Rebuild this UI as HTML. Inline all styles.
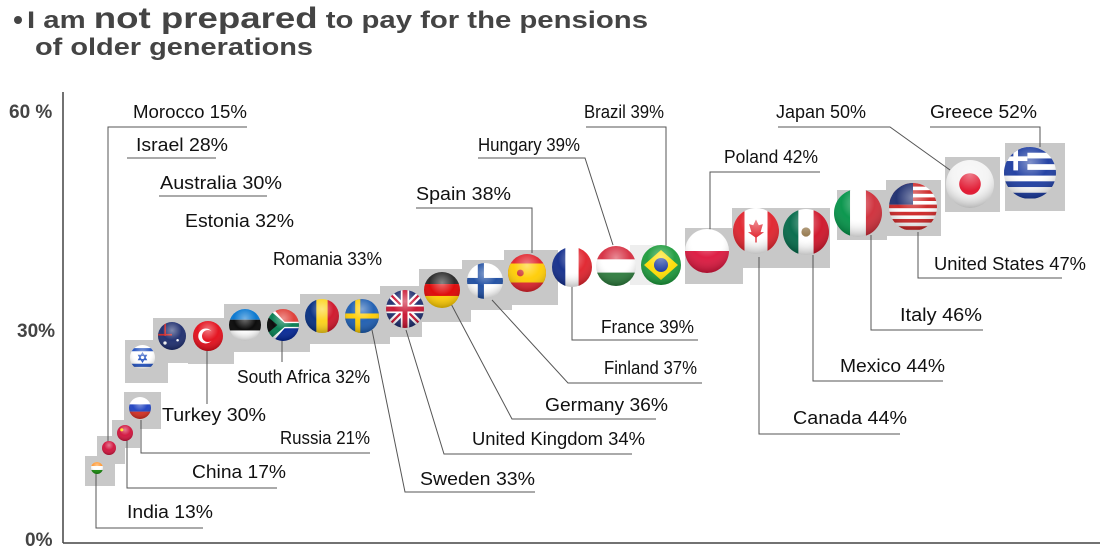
<!DOCTYPE html>
<html><head><meta charset="utf-8"><style>
html,body{margin:0;padding:0;background:#fff;}
svg{display:block}
text{font-family:"Liberation Sans",sans-serif;}
.l{font-size:18px;fill:#111;}
.ln{stroke:#555;stroke-width:1;fill:none;}
.bx{fill:#c8c8c8;}
</style></head><body>
<svg width="1107" height="553" viewBox="0 0 1107 553" xmlns="http://www.w3.org/2000/svg">
<defs>
<clipPath id="c" clipPathUnits="userSpaceOnUse"><circle cx="0" cy="0" r="1"/></clipPath>
<radialGradient id="sh" cx="0.5" cy="0.3" r="0.7">
<stop offset="0" stop-color="#fff" stop-opacity="0.45"/><stop offset="0.5" stop-color="#fff" stop-opacity="0.05"/><stop offset="1" stop-color="#000" stop-opacity="0.25"/></radialGradient>
</defs>
<!-- title -->
<circle cx="18" cy="20" r="4" fill="#444"/>
<text x="27" y="28" fill="#444" font-weight="bold" font-size="24" textLength="621" lengthAdjust="spacingAndGlyphs">I am <tspan font-size="30">not prepared</tspan> to pay for the pensions</text>
<text x="35" y="55" fill="#444" font-weight="bold" font-size="24" textLength="278" lengthAdjust="spacingAndGlyphs">of older generations</text>
<!-- axes -->
<line x1="63" y1="92" x2="63" y2="543" stroke="#444" stroke-width="1.5"/>
<line x1="63" y1="543" x2="1100" y2="543" stroke="#444" stroke-width="1.5"/>
<g fill="#444" font-weight="bold" font-size="19">
<text x="9" y="118">60 %</text><text x="17" y="337">30%</text><text x="25" y="546">0%</text></g>

<!-- gray boxes -->
<g class="bx">
<rect x="85" y="456" width="30" height="30"/><rect x="97" y="436" width="28" height="28"/>
<rect x="112" y="420" width="28" height="28"/><rect x="124" y="392" width="37" height="37"/>
<rect x="125" y="340" width="43" height="43"/><rect x="153" y="318" width="43" height="45"/>
<rect x="188" y="318" width="46" height="46"/><rect x="224" y="304" width="42" height="48"/>
<rect x="262" y="304" width="48" height="48"/><rect x="300" y="294" width="43" height="50"/>
<rect x="340" y="294" width="50" height="50"/><rect x="380" y="286" width="42" height="51"/>
<rect x="419" y="269" width="52" height="53"/><rect x="462" y="260" width="50" height="50"/>
<rect x="504" y="250" width="54" height="55"/><rect x="630" y="245" width="30" height="40" fill="#eee"/>
<rect x="685" y="228" width="58" height="56"/><rect x="732" y="208" width="54" height="60"/>
<rect x="785" y="208" width="45" height="60"/><rect x="837" y="190" width="50" height="50"/>
<rect x="886" y="180" width="55" height="56"/><rect x="945" y="157" width="55" height="55"/>
<rect x="1005" y="143" width="60" height="68"/>
</g>

<!-- leader lines -->
<g class="ln">
<polyline points="247,127 108,127 108,448"/>
<line x1="127" y1="158" x2="216" y2="158"/>
<line x1="159" y1="196" x2="267" y2="196"/>
<line x1="282" y1="340" x2="282" y2="362"/>
<line x1="207" y1="350" x2="207" y2="404"/>
<polyline points="141,420 141,453 370,453"/>
<polyline points="127,436 127,488 277,488"/>
<polyline points="96,472 96,528 203,528"/>
<polyline points="372,330 405,492 535,492"/>
<polyline points="406,330 444,454 632,454"/>
<polyline points="449,300 512,419 656,419"/>
<polyline points="492,300 568,383 702,383"/>
<polyline points="572,283 572,340 698,340"/>
<polyline points="416,208 532,208 532,253"/>
<polyline points="478,158 585,158 613,245"/>
<polyline points="586,127 666,127 666,247"/>
<polyline points="820,172 710,172 710,230"/>
<polyline points="778,127 890,127 950,170"/>
<polyline points="930,127 1040,127 1040,147"/>
<polyline points="918,232 918,278 1062,278"/>
<polyline points="871,235 871,330 983,330"/>
<polyline points="813,255 813,381 943,381"/>
<polyline points="759,257 759,434 900,434"/>
</g>

<!-- flags -->
<svg x="91" y="462" width="12" height="12" viewBox="-1 -1 2 2"><g clip-path="url(#c)"><rect x="-1" y="-1" width="2" height="2" fill="#fff"/><rect x="-1" y="-1" width="2" height=".67" fill="#f93"/><rect x="-1" y=".33" width="2" height=".67" fill="#138808"/></g><circle r="1" fill="url(#sh)"/></svg>
<svg x="102" y="441" width="14" height="14" viewBox="-1 -1 2 2"><g clip-path="url(#c)"><rect x="-1" y="-1" width="2" height="2" fill="#d0103a"/></g><circle r="1" fill="url(#sh)"/></svg>
<svg x="117" y="425" width="16" height="16" viewBox="-1 -1 2 2"><g clip-path="url(#c)"><rect x="-1" y="-1" width="2" height="2" fill="#d0103a"/><circle cx="-.4" cy="-.4" r=".2" fill="#fd0"/></g><circle r="1" fill="url(#sh)"/></svg>
<svg x="129" y="397" width="22" height="22" viewBox="-1 -1 2 2"><g clip-path="url(#c)"><rect x="-1" y="-1" width="2" height="2" fill="#fff"/><rect x="-1" y="-.33" width="2" height=".67" fill="#1c3fc0"/><rect x="-1" y=".33" width="2" height=".67" fill="#d52b1e"/></g><circle r="1" fill="url(#sh)"/></svg>
<svg x="130" y="345" width="25" height="25" viewBox="-1 -1 2 2"><g clip-path="url(#c)"><rect x="-1" y="-1" width="2" height="2" fill="#fff"/><rect x="-1" y="-.75" width="2" height=".25" fill="#2050c0"/><rect x="-1" y=".5" width="2" height=".25" fill="#2050c0"/><polygon points="0,-.35 .3,.17 -.3,.17" fill="none" stroke="#2050c0" stroke-width=".1"/><polygon points="0,.35 .3,-.17 -.3,-.17" fill="none" stroke="#2050c0" stroke-width=".1"/></g><circle r="1" fill="url(#sh)"/></svg>
<svg x="158" y="322" width="28" height="28" viewBox="-1 -1 2 2"><g clip-path="url(#c)"><rect x="-1" y="-1" width="2" height="2" fill="#1a2a6c"/><rect x="-1" y="-.15" width="1" height=".12" fill="#c22"/><rect x="-.55" y="-1" width=".12" height="1" fill="#c22"/><circle cx=".4" cy=".3" r=".09" fill="#fff"/><circle cx="-.5" cy=".5" r=".12" fill="#fff"/></g><circle r="1" fill="url(#sh)"/></svg>
<svg x="193" y="321" width="30" height="30" viewBox="-1 -1 2 2"><g clip-path="url(#c)"><rect x="-1" y="-1" width="2" height="2" fill="#e30a17"/><circle cx="-.15" cy="0" r=".5" fill="#fff"/><circle cx="0" cy="0" r=".4" fill="#e30a17"/></g><circle r="1" fill="url(#sh)"/></svg>
<svg x="229" y="309" width="32" height="32" viewBox="-1 -1 2 2"><g clip-path="url(#c)"><rect x="-1" y="-1" width="2" height="2" fill="#fff"/><rect x="-1" y="-1" width="2" height=".67" fill="#0072ce"/><rect x="-1" y="-.33" width="2" height=".67" fill="#000"/></g><circle r="1" fill="url(#sh)"/></svg>
<svg x="267" y="309" width="32" height="32" viewBox="-1 -1 2 2"><g clip-path="url(#c)"><rect x="-1" y="-1" width="2" height="1" fill="#de3831"/><rect x="-1" y="0" width="2" height="1" fill="#002395"/><polygon points="-1,-1 -.6,-1 .1,-.2 1,-.2 1,.2 .1,.2 -.6,1 -1,1" fill="#fff"/><polygon points="-1,-.85 -.75,-.85 .1,-.12 1,-.12 1,.12 .1,.12 -.75,.85 -1,.85" fill="#007a4d"/><polygon points="-1,-.55 -.35,0 -1,.55" fill="#000"/></g><circle r="1" fill="url(#sh)"/></svg>
<svg x="305" y="299" width="34" height="34" viewBox="-1 -1 2 2"><g clip-path="url(#c)"><rect x="-1" y="-1" width=".67" height="2" fill="#002b7f"/><rect x="-.33" y="-1" width=".67" height="2" fill="#fcd116"/><rect x=".33" y="-1" width=".67" height="2" fill="#ce1126"/></g><circle r="1" fill="url(#sh)"/></svg>
<svg x="345" y="299" width="34" height="34" viewBox="-1 -1 2 2"><g clip-path="url(#c)"><rect x="-1" y="-1" width="2" height="2" fill="#1a5bb0"/><rect x="-1" y="-.15" width="2" height=".3" fill="#fc0"/><rect x="-.4" y="-1" width=".3" height="2" fill="#fc0"/></g><circle r="1" fill="url(#sh)"/></svg>
<svg x="386" y="290" width="38" height="38" viewBox="-1 -1 2 2"><g clip-path="url(#c)"><rect x="-1" y="-1" width="2" height="2" fill="#1a2a6c"/><path d="M-1,-1 L1,1 M1,-1 L-1,1" stroke="#fff" stroke-width=".35"/><path d="M-1,-1 L1,1 M1,-1 L-1,1" stroke="#c8102e" stroke-width=".12"/><rect x="-1" y="-.22" width="2" height=".44" fill="#fff"/><rect x="-.22" y="-1" width=".44" height="2" fill="#fff"/><rect x="-1" y="-.13" width="2" height=".26" fill="#c8102e"/><rect x="-.13" y="-1" width=".26" height="2" fill="#c8102e"/></g><circle r="1" fill="url(#sh)"/></svg>
<svg x="424" y="272" width="36" height="36" viewBox="-1 -1 2 2"><g clip-path="url(#c)"><rect x="-1" y="-1" width="2" height=".67" fill="#222"/><rect x="-1" y="-.33" width="2" height=".67" fill="#d00"/><rect x="-1" y=".33" width="2" height=".67" fill="#fc0"/></g><circle r="1" fill="url(#sh)"/></svg>
<svg x="467" y="263" width="36" height="36" viewBox="-1 -1 2 2"><g clip-path="url(#c)"><rect x="-1" y="-1" width="2" height="2" fill="#fff"/><rect x="-1" y="-.17" width="2" height=".34" fill="#1a4aa0"/><rect x="-.4" y="-1" width=".34" height="2" fill="#1a4aa0"/></g><circle r="1" fill="url(#sh)"/></svg>
<svg x="508" y="254" width="38" height="38" viewBox="-1 -1 2 2"><g clip-path="url(#c)"><rect x="-1" y="-1" width="2" height="2" fill="#e0202a"/><rect x="-1" y="-.5" width="2" height="1" fill="#fc0"/><circle cx="-.35" cy="0" r=".18" fill="#c33"/></g><circle r="1" fill="url(#sh)"/></svg>
<svg x="552" y="247" width="40" height="40" viewBox="-1 -1 2 2"><g clip-path="url(#c)"><rect x="-1" y="-1" width=".67" height="2" fill="#0f2a8a"/><rect x="-.33" y="-1" width=".67" height="2" fill="#fff"/><rect x=".33" y="-1" width=".67" height="2" fill="#e0202a"/></g><circle r="1" fill="url(#sh)"/></svg>
<svg x="596" y="246" width="40" height="40" viewBox="-1 -1 2 2"><g clip-path="url(#c)"><rect x="-1" y="-1" width="2" height=".67" fill="#d52b3e"/><rect x="-1" y="-.33" width="2" height=".67" fill="#fff"/><rect x="-1" y=".33" width="2" height=".67" fill="#2a7a3a"/></g><circle r="1" fill="url(#sh)"/></svg>
<svg x="641" y="245" width="40" height="40" viewBox="-1 -1 2 2"><g clip-path="url(#c)"><rect x="-1" y="-1" width="2" height="2" fill="#1a9a3a"/><polygon points="0,-.75 .85,0 0,.75 -.85,0" fill="#fd0"/><circle r=".35" fill="#1a3aa0"/></g><circle r="1" fill="url(#sh)"/></svg>
<svg x="685" y="229" width="44" height="44" viewBox="-1 -1 2 2"><g clip-path="url(#c)"><rect x="-1" y="-1" width="2" height="2" fill="#fff"/><rect x="-1" y="0" width="2" height="1" fill="#dc143c"/></g><circle r="1" fill="url(#sh)"/></svg>
<svg x="733" y="208" width="46" height="46" viewBox="-1 -1 2 2"><g clip-path="url(#c)"><rect x="-1" y="-1" width="2" height="2" fill="#fff"/><rect x="-1" y="-1" width=".5" height="2" fill="#e0202a"/><rect x=".5" y="-1" width=".5" height="2" fill="#e0202a"/><polygon points="0,-.5 .12,-.25 .3,-.3 .2,.05 .35,.05 0,.3 -.35,.05 -.2,.05 -.3,-.3 -.12,-.25" fill="#e0202a"/><rect x="-.03" y=".2" width=".06" height=".3" fill="#e0202a"/></g><circle r="1" fill="url(#sh)"/></svg>
<svg x="783" y="209" width="46" height="46" viewBox="-1 -1 2 2"><g clip-path="url(#c)"><rect x="-1" y="-1" width=".67" height="2" fill="#006847"/><rect x="-.33" y="-1" width=".67" height="2" fill="#fff"/><rect x=".33" y="-1" width=".67" height="2" fill="#ce1126"/><circle r=".2" fill="#8a6a3a"/></g><circle r="1" fill="url(#sh)"/></svg>
<svg x="834" y="189" width="48" height="48" viewBox="-1 -1 2 2"><g clip-path="url(#c)"><rect x="-1" y="-1" width=".67" height="2" fill="#009246"/><rect x="-.33" y="-1" width=".67" height="2" fill="#fff"/><rect x=".33" y="-1" width=".67" height="2" fill="#ce2b37"/></g><circle r="1" fill="url(#sh)"/></svg>
<svg x="889" y="183" width="48" height="48" viewBox="-1 -1 2 2"><g clip-path="url(#c)"><rect x="-1" y="-1" width="2" height="2" fill="#fff"/><g fill="#c22"><rect x="-1" y="-1" width="2" height=".15"/><rect x="-1" y="-.7" width="2" height=".15"/><rect x="-1" y="-.4" width="2" height=".15"/><rect x="-1" y="-.1" width="2" height=".15"/><rect x="-1" y=".2" width="2" height=".15"/><rect x="-1" y=".5" width="2" height=".15"/><rect x="-1" y=".8" width="2" height=".15"/></g><rect x="-1" y="-1" width="1" height=".9" fill="#1a2a6c"/></g><circle r="1" fill="url(#sh)"/></svg>
<svg x="946" y="160" width="48" height="48" viewBox="-1 -1 2 2"><g clip-path="url(#c)"><rect x="-1" y="-1" width="2" height="2" fill="#f4f4f4"/><circle r=".45" fill="#e0102a"/></g><circle r="1" fill="url(#sh)"/></svg>
<svg x="1004" y="147" width="52" height="52" viewBox="-1 -1 2 2"><g clip-path="url(#c)"><rect x="-1" y="-1" width="2" height="2" fill="#fff"/><g fill="#1a3aa0"><rect x="-1" y="-1" width="2" height=".22"/><rect x="-1" y="-.56" width="2" height=".22"/><rect x="-1" y="-.12" width="2" height=".22"/><rect x="-1" y=".32" width="2" height=".22"/><rect x="-1" y=".76" width="2" height=".22"/></g><rect x="-1" y="-1" width=".9" height=".9" fill="#1a3aa0"/><rect x="-1" y="-.64" width=".9" height=".18" fill="#fff"/><rect x="-.64" y="-1" width=".18" height=".9" fill="#fff"/></g><circle r="1" fill="url(#sh)"/></svg>

<!-- labels -->
<g class="l">
<text x="133" y="118" textLength="114" lengthAdjust="spacingAndGlyphs">Morocco 15%</text>
<text x="136" y="151" textLength="92" lengthAdjust="spacingAndGlyphs">Israel 28%</text>
<text x="160" y="189" textLength="122" lengthAdjust="spacingAndGlyphs">Australia 30%</text>
<text x="185" y="227" textLength="109" lengthAdjust="spacingAndGlyphs">Estonia 32%</text>
<text x="273" y="265" textLength="109" lengthAdjust="spacingAndGlyphs">Romania 33%</text>
<text x="237" y="383" textLength="133" lengthAdjust="spacingAndGlyphs">South Africa 32%</text>
<text x="162" y="421" textLength="104" lengthAdjust="spacingAndGlyphs">Turkey 30%</text>
<text x="280" y="444" textLength="90" lengthAdjust="spacingAndGlyphs">Russia 21%</text>
<text x="192" y="478" textLength="94" lengthAdjust="spacingAndGlyphs">China 17%</text>
<text x="127" y="518" textLength="86" lengthAdjust="spacingAndGlyphs">India 13%</text>
<text x="420" y="485" textLength="115" lengthAdjust="spacingAndGlyphs">Sweden 33%</text>
<text x="472" y="445" textLength="173" lengthAdjust="spacingAndGlyphs">United Kingdom 34%</text>
<text x="545" y="411" textLength="123" lengthAdjust="spacingAndGlyphs">Germany 36%</text>
<text x="604" y="374" textLength="93" lengthAdjust="spacingAndGlyphs">Finland 37%</text>
<text x="601" y="333" textLength="93" lengthAdjust="spacingAndGlyphs">France 39%</text>
<text x="416" y="200" textLength="95" lengthAdjust="spacingAndGlyphs">Spain 38%</text>
<text x="478" y="151" textLength="102" lengthAdjust="spacingAndGlyphs">Hungary 39%</text>
<text x="584" y="118" textLength="80" lengthAdjust="spacingAndGlyphs">Brazil 39%</text>
<text x="724" y="163" textLength="94" lengthAdjust="spacingAndGlyphs">Poland 42%</text>
<text x="776" y="118" textLength="90" lengthAdjust="spacingAndGlyphs">Japan 50%</text>
<text x="930" y="118" textLength="107" lengthAdjust="spacingAndGlyphs">Greece 52%</text>
<text x="934" y="270" textLength="152" lengthAdjust="spacingAndGlyphs">United States 47%</text>
<text x="900" y="321" textLength="82" lengthAdjust="spacingAndGlyphs">Italy 46%</text>
<text x="840" y="372" textLength="105" lengthAdjust="spacingAndGlyphs">Mexico 44%</text>
<text x="793" y="424" textLength="114" lengthAdjust="spacingAndGlyphs">Canada 44%</text>
</g>
</svg>
</body></html>
